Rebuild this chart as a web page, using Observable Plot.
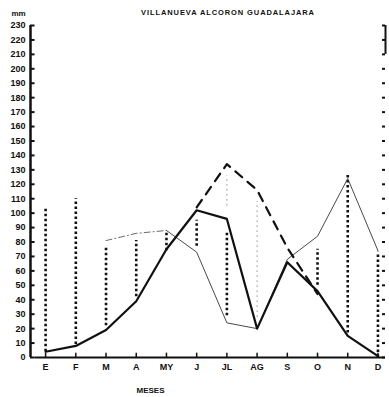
<!DOCTYPE html>
<html><head><meta charset="utf-8">
<script src="https://cdn.jsdelivr.net/npm/d3@7"></script>
<script src="https://cdn.jsdelivr.net/npm/@observablehq/plot@0.6"></script>
<style>html,body{margin:0;padding:0;background:#fff}svg{display:block}</style>
</head><body><div id="chart"></div>
<script>
// ---- data ----
const months = ["E","F","M","A","MY","J","JL","AG","S","O","N","D"];
const title = "VILLANUEVA ALCORON GUADALAJARA";
const yUnit = "mm";
const xTitle = "MESES";
const yTicks = d3.range(0, 231, 10);
// thick solid line
const serieSolid  = [4, 8, 19, 39, 75, 102, 96, 20, 66, 46, 15, 1];
// thick dashed line
const serieDashed = [null, null, null, null, null, 104, 134, 116, 76, 44, null, null];
// thin line
const serieThin   = [null, null, 81, 86, 88, 73, 24, 20, 68, 84, 124, 74];
// heavy dotted verticals (low / high)
const barLow  = [4, 9, 22, 42, 74, 77, 29, null, null, 50, 17, 0];
const barHigh = [104, 110, 77, 81, 87, 95, 87, null, null, 75, 126, 73];
// faint dotted verticals (low / high)
const faintLow  = [null, null, null, null, null, null, 105, 28, null, null, null, null];
const faintHigh = [null, null, null, null, null, null, 126, 108, null, null, null, null];

// ---- build ----
const idx = d3.range(months.length);
const pts = arr => idx.filter(i => arr[i] != null).map(i => ({i, v: arr[i]}));
const bars = (lo, hi) => idx.filter(i => lo[i] != null).map(i => ({i, y1: lo[i], y2: hi[i]}));
const xMin = -0.5, xMax = 11.25;
const yMax = d3.max(yTicks);
const font = "'Liberation Sans', Arial, sans-serif";

const thin = pts(serieThin);
const chart = Plot.plot({
  width: 389, height: 397,
  marginTop: 25, marginBottom: 40, marginLeft: 30, marginRight: 4,
  x: {domain: [xMin, xMax], axis: null},
  y: {domain: [0, yMax], axis: null},
  style: {fontFamily: font, fontSize: "9px", fontWeight: "bold", color: "#111", background: "#fff"},
  marks: [
    Plot.ruleX(bars(barLow, barHigh), {x: "i", y1: "y1", y2: "y2", stroke: "#111", strokeWidth: 2.6, strokeDasharray: "2.5,2.5"}),
    Plot.ruleX(bars(faintLow, faintHigh), {x: "i", y1: "y1", y2: "y2", stroke: "#555", strokeWidth: 1, strokeDasharray: "1,4"}),
    Plot.line(thin.filter(d => d.i <= 4), {x: "i", y: "v", stroke: "#444", strokeWidth: 0.8, strokeDasharray: "6,3,1,3"}),
    Plot.line(thin.filter(d => d.i >= 4), {x: "i", y: "v", stroke: "#333", strokeWidth: 0.9}),
    Plot.line(pts(serieDashed), {x: "i", y: "v", stroke: "#111", strokeWidth: 2.2, strokeDasharray: "9,7"}),
    Plot.line(pts(serieSolid), {x: "i", y: "v", stroke: "#111", strokeWidth: 2.2}),
    // axes frame
    Plot.ruleX([xMin], {y1: 0, y2: yMax, stroke: "#111", strokeWidth: 2.5}),
    Plot.ruleY([0], {x1: xMin + 0.15, x2: xMax, stroke: "#111", strokeWidth: 2}),
    Plot.ruleY(yTicks, {x1: xMin, x2: xMin + 0.15, stroke: "#111", strokeWidth: 2}),
    Plot.ruleY(yTicks, {x1: xMax - 0.1, x2: xMax, stroke: "#111", strokeWidth: 2}),
    Plot.ruleX([xMax], {y1: yMax - 20, y2: yMax, stroke: "#111", strokeWidth: 2}),
    Plot.ruleX(idx, {x: d => d, y1: 0, y2: 3, stroke: "#111", strokeWidth: 1.5}),
    Plot.axisY(yTicks, {x: xMin, anchor: "left", tickSize: 0, tickPadding: 5, label: null, fontSize: 9}),
    Plot.axisX(idx, {tickSize: 0, tickPadding: 6, tickFormat: i => months[i], label: null, fontSize: 9}),
    Plot.text([title], {frameAnchor: "top", dx: 20, dy: -11, lineAnchor: "bottom", fontSize: 7.5, fill: "#111"}),
    Plot.text([yUnit], {frameAnchor: "top-left", dx: -12, dy: -10, lineAnchor: "bottom", textAnchor: "middle", fontSize: 8, fill: "#111"}),
    Plot.text([xTitle], {frameAnchor: "bottom-left", dx: 120, dy: 35, lineAnchor: "bottom", textAnchor: "middle", fontSize: 8, fill: "#111"})
  ]
});
d3.select(chart).selectAll("text").filter(function() { return this.textContent === title; }).style("letter-spacing", "0.9px");
document.getElementById("chart").appendChild(chart);
</script>
</body></html>
